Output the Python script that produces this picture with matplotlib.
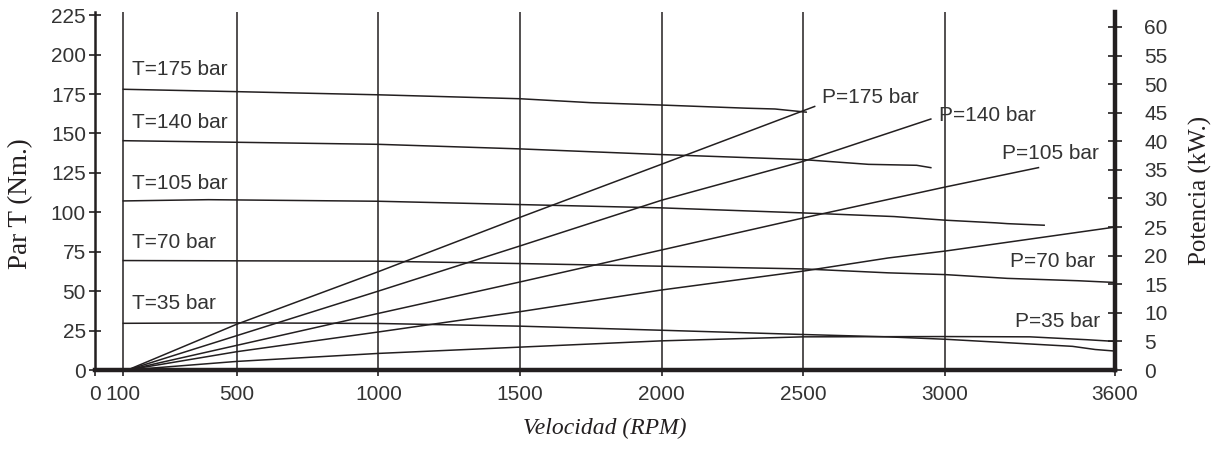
import numpy as np
import matplotlib.pyplot as plt

# torque curves, left axis (Nm)
rpm_t175 = [100, 500, 1000, 1500, 1750, 2000, 2300, 2400, 2510]
t175 = [178, 176.5, 174.5, 172, 169.5, 168, 166, 165.5, 163.5]
rpm_t140 = [100, 500, 1000, 1500, 2000, 2500, 2730, 2900, 2950]
t140 = [145.4, 144.4, 143.1, 140.2, 136.6, 133.4, 130.4, 129.8, 128.3]
rpm_t105 = [100, 400, 1000, 1500, 2000, 2500, 2820, 3000, 3180, 3220, 3350]
t105 = [107.2, 108, 107, 104.9, 102.8, 99.6, 97.3, 95, 93.3, 92.8, 91.8]
rpm_t70 = [100, 1000, 1500, 2000, 2500, 2800, 3000, 3220, 3470, 3600]
t70 = [69.4, 69, 67.5, 65.8, 64.1, 61.6, 60.5, 58.1, 56.6, 55.5]
rpm_t35 = [100, 500, 1000, 1500, 2000, 2500, 2800, 3000, 3200, 3450, 3530, 3600]
t35 = [29.6, 29.9, 29.5, 27.8, 25.2, 22.5, 21, 19.5, 17.5, 15, 13, 12]

# power curves, right axis (kW)
rpm_p175 = [115, 500, 1000, 1500, 2000, 2540]
p175 = [0, 8, 17.2, 26.7, 36, 46.1]
rpm_p140 = [115, 1000, 1500, 2000, 2500, 2950]
p140 = [0, 13.8, 21.7, 29.7, 36.5, 43.9]
rpm_p105 = [115, 1000, 1500, 2000, 2500, 3000, 3330]
p105 = [0, 9.9, 15.4, 21, 26.6, 32, 35.4]
rpm_p70 = [115, 500, 1000, 1500, 2000, 2500, 2800, 3000, 3600]
p70 = [0, 3.2, 6.65, 10.2, 14, 17.3, 19.6, 20.8, 25]
rpm_p35 = [115, 500, 1000, 1500, 2000, 2500, 3000, 3300, 3500, 3600]
p35 = [0, 1.5, 2.9, 4.0, 5.1, 5.8, 5.85, 5.8, 5.3, 5.0]

x_ticks = [0, 100, 500, 1000, 1500, 2000, 2500, 3000, 3600]
x_grid = [100, 500, 1000, 1500, 2000, 2500, 3000]
t_ticks = np.arange(0, 226, 25)
p_ticks = np.arange(0, 61, 5)

t_labels = ['T=175 bar', 'T=140 bar', 'T=105 bar', 'T=70 bar', 'T=35 bar']
t_label_y = [190.4, 156.8, 118.2, 80.8, 42.1]
p_labels = ['P=175 bar', 'P=140 bar', 'P=105 bar', 'P=70 bar', 'P=35 bar']
p_label_x = [2566, 2979, 3201, 3230, 3247]
p_label_y = [47.6, 44.5, 37.8, 18.9, 8.4]

ink = '#231f20'
txt = '#333333'
sans = 'Liberation Sans'
serif = 'Liberation Serif'

W, H = 1217, 449
fig = plt.figure(figsize=(W / 100, H / 100), dpi=100)
ax = fig.add_axes([95 / W, (H - 370) / H, (1115 - 95) / W, (370 - 12) / H])
ax2 = ax.twinx()

for g in x_grid:
    ax.axvline(g, color=ink, lw=1.1, zorder=1)

for xs, ys in [(rpm_t175, t175), (rpm_t140, t140), (rpm_t105, t105),
               (rpm_t70, t70), (rpm_t35, t35)]:
    ax.plot(xs, ys, color=ink, lw=1.1, zorder=2)

for xs, ys in [(rpm_p175, p175), (rpm_p140, p140), (rpm_p105, p105),
               (rpm_p70, p70), (rpm_p35, p35)]:
    ax2.plot(xs, ys, color=ink, lw=1.1, zorder=2)

for lab, y in zip(t_labels, t_label_y):
    ax.text(130, y, lab, ha='left', va='center', fontsize=15, family=sans, color=txt)
for lab, x, y in zip(p_labels, p_label_x, p_label_y):
    ax2.text(x, y, lab, ha='left', va='center', fontsize=15, family=sans, color=txt)

ax.set_xlim(0, 3600)
ax.set_ylim(0, 227)
ax2.set_ylim(0, 227 / 3.625)

ax.set_xticks(x_ticks)
ax.set_xticklabels([str(v) for v in x_ticks])
ax.set_yticks(t_ticks)
ax2.set_yticks(p_ticks)

ax.spines['top'].set_visible(False)
ax2.spines['top'].set_visible(False)
ax.spines['right'].set_visible(False)
ax2.spines['left'].set_visible(False)
ax2.spines['bottom'].set_visible(False)
ax.spines['left'].set_linewidth(1.8)
ax.spines['left'].set_color(ink)
ax.spines['bottom'].set_linewidth(3.2)
ax.spines['bottom'].set_color(ink)
ax2.spines['right'].set_linewidth(3.2)
ax2.spines['right'].set_color(ink)

ax.tick_params(axis='y', direction='inout', length=9, width=1.2, color=ink,
               pad=2, labelsize=15, labelcolor=txt)
ax.tick_params(axis='x', direction='out', length=4, width=1.2, color=ink,
               pad=7, labelsize=15, labelcolor=txt)
ax2.tick_params(axis='y', direction='inout', length=10, width=1.2, color=ink,
                pad=16, labelsize=15, labelcolor=txt)
for lbl in ax.get_xticklabels() + ax.get_yticklabels() + ax2.get_yticklabels():
    lbl.set_family(sans)

fig.text(21 / W, 1 - 204 / H, 'Par T (Nm.)', rotation=90, ha='center', va='center',
         fontsize=19.5, family=serif, color=ink)
fig.text(1200 / W, 1 - 190 / H, 'Potencia (kW.)', rotation=90, ha='center', va='center',
         fontsize=18, family=serif, color=ink)
fig.text(605 / W, 1 - 428 / H, 'Velocidad (RPM)', ha='center', va='center',
         fontsize=17, family=serif, style='italic', color=ink)

fig.savefig('out.png', dpi=100)
